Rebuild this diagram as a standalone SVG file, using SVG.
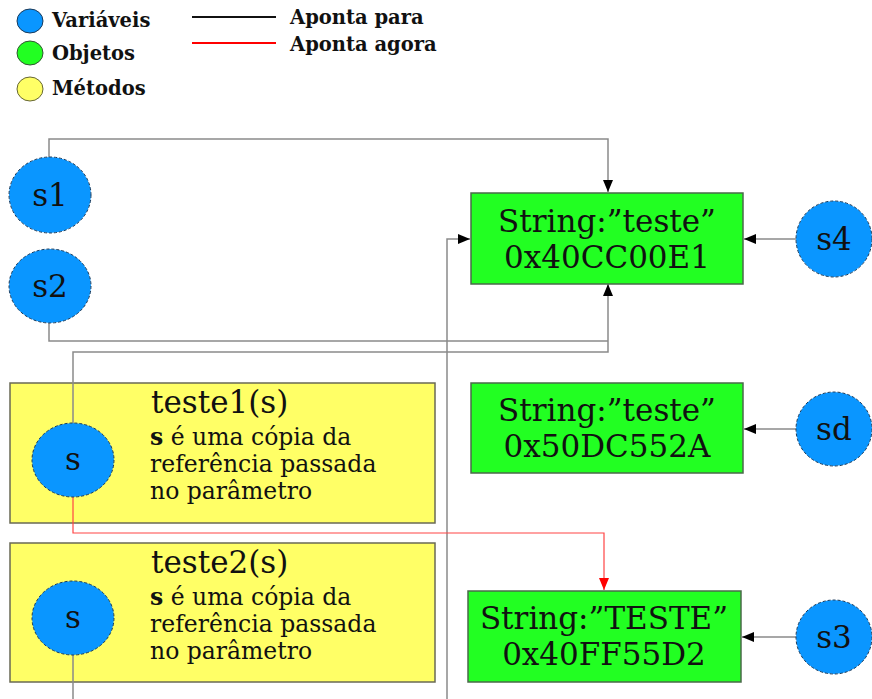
<svg xmlns="http://www.w3.org/2000/svg" width="872" height="699" viewBox="0 0 872 699">
<style>
text{font-family:"DejaVu Serif","Liberation Serif",serif;fill:#111}
.leg{font-weight:bold;font-size:19.5px}
.var{fill:#0a96ff;stroke:#1a3a5a;stroke-width:1;stroke-dasharray:3 2}
.obj{fill:#22ff22;stroke:#4a6a4a;stroke-width:1.5}
.met{fill:#ffff66;stroke:#6a6a55;stroke-width:1.5}
.big{font-size:31px;text-anchor:middle}
.title{font-size:31px}
.desc{font-size:23.5px}
.c{fill:none;stroke:#8a8a8a;stroke-width:1.5}
.r{fill:none;stroke:#ff4444;stroke-width:1.2}
</style>
<defs>
<marker id="ah" viewBox="0 0 12 10" refX="12" refY="5" markerWidth="12" markerHeight="10" markerUnits="userSpaceOnUse" orient="auto"><path d="M0,0L12,5L0,10z" fill="#000"/></marker>
<marker id="ahr" viewBox="0 0 12 10" refX="12" refY="5" markerWidth="12" markerHeight="10" markerUnits="userSpaceOnUse" orient="auto"><path d="M0,0L12,5L0,10z" fill="#ff0000"/></marker>
</defs>
<g id="legend">
<ellipse cx="30" cy="21" rx="13" ry="12" fill="#0a96ff" stroke="#1a3a5a" stroke-width="1"/>
<ellipse cx="30" cy="53" rx="13" ry="12" fill="#22ff22" stroke="#335533" stroke-width="1"/>
<ellipse cx="30" cy="89" rx="13" ry="12" fill="#ffff66" stroke="#666633" stroke-width="1"/>
<text class="leg" x="52" y="27">Variáveis</text>
<text class="leg" x="52" y="60">Objetos</text>
<text class="leg" x="52" y="95">Métodos</text>
<line x1="192" y1="17" x2="276" y2="17" stroke="#111" stroke-width="2"/>
<line x1="192" y1="43" x2="276" y2="43" stroke="#ff0000" stroke-width="2"/>
<text class="leg" x="290" y="24">Aponta para</text>
<text class="leg" x="290" y="51">Aponta agora</text>
</g>
<g id="teste1">
<rect class="met" x="10" y="383" width="425" height="140"/>
<text class="title" x="151" y="413">teste1(s)</text>
<text class="desc" x="150" y="445"><tspan font-weight="bold">s</tspan> é uma cópia da</text>
<text class="desc" x="150" y="472">referência passada</text>
<text class="desc" x="150" y="499">no parâmetro</text>
</g>
<g id="teste2">
<rect class="met" x="10" y="543" width="425" height="139"/>
<text class="title" x="151" y="573">teste2(s)</text>
<text class="desc" x="150" y="605"><tspan font-weight="bold">s</tspan> é uma cópia da</text>
<text class="desc" x="150" y="632">referência passada</text>
<text class="desc" x="150" y="659">no parâmetro</text>
</g>
<g id="connectors">
<polyline class="c" points="49,158 49,139 608,139 608,192" marker-end="url(#ah)"/>
<polyline class="c" points="49,323 49,341 608,341"/>
<polyline class="c" points="73,423 73,352 608,352 608,284" marker-end="url(#ah)"/>
<polyline class="c" points="447,699 447,239 470,239" marker-end="url(#ah)"/>
<polyline class="c" points="73,655 73,699"/>
<line class="c" x1="796" y1="239" x2="744" y2="239" marker-end="url(#ah)"/>
<line class="c" x1="796" y1="429" x2="744" y2="429" marker-end="url(#ah)"/>
<line class="c" x1="796" y1="637" x2="742" y2="637" marker-end="url(#ah)"/>
<polyline class="r" points="73,497 73,533 604,533 604,590" marker-end="url(#ahr)"/>
</g>
<g id="s1"><ellipse class="var" cx="50" cy="195" rx="41" ry="38"/><text class="big" x="50" y="206">s1</text></g>
<g id="s2"><ellipse class="var" cx="50" cy="286" rx="41" ry="37"/><text class="big" x="50" y="297">s2</text></g>
<g id="s-teste1"><ellipse class="var" cx="73" cy="460" rx="41" ry="37"/><text class="big" x="73" y="470">s</text></g>
<g id="s-teste2"><ellipse class="var" cx="73" cy="618" rx="41" ry="37"/><text class="big" x="73" y="628">s</text></g>
<g id="obj1"><rect class="obj" x="471" y="193" width="272" height="91"/><text class="big" x="607" y="232">String:”teste”</text><text class="big" x="607" y="268">0x40CC00E1</text></g>
<g id="obj2"><rect class="obj" x="471" y="383" width="272" height="90"/><text class="big" x="607" y="421">String:”teste”</text><text class="big" x="607" y="457">0x50DC552A</text></g>
<g id="obj3"><rect class="obj" x="468" y="591" width="273" height="91"/><text class="big" x="604" y="629">String:”TESTE”</text><text class="big" x="604" y="665">0x40FF55D2</text></g>
<g id="s4"><ellipse class="var" cx="834" cy="239" rx="38" ry="38"/><text class="big" x="834" y="250">s4</text></g>
<g id="sd"><ellipse class="var" cx="834" cy="429" rx="38" ry="37"/><text class="big" x="834" y="440">sd</text></g>
<g id="s3"><ellipse class="var" cx="834" cy="637" rx="38" ry="37"/><text class="big" x="834" y="648">s3</text></g>
</svg>
